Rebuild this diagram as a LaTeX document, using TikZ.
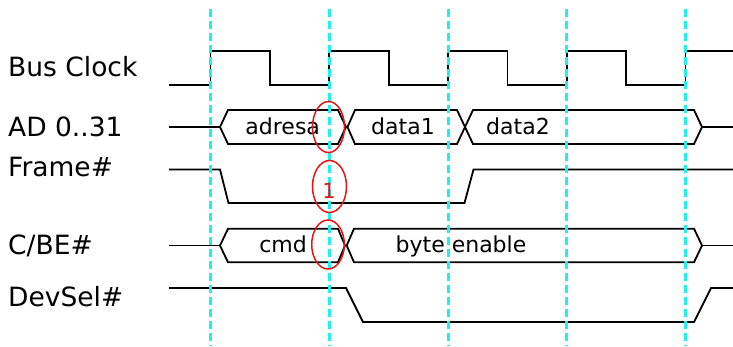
\documentclass[tikz,border=0pt]{standalone}
\usepackage{fontspec}
\setmainfont{DejaVu Sans}
\definecolor{guide}{RGB}{34,238,238}
\definecolor{mark}{RGB}{230,20,20}
\begin{document}
\begin{tikzpicture}[x=1bp,y=-1bp,
  sig/.style={line width=1.8bp,black,line join=miter},
  guideline/.style={guide,line width=3bp,dash pattern=on 8bp off 4bp},
  lab/.style={anchor=base west,inner sep=0pt,font=\fontsize{26.5bp}{28bp}\selectfont},
  bus/.style={anchor=base,inner sep=0pt,font=\fontsize{22bp}{24bp}\selectfont},
  ring/.style={draw=mark,line width=1.5bp}]
\useasboundingbox (0,0) rectangle (733,346);
% labels
\node[lab] (lclk) at (8,76) {Bus Clock};
\node[lab] (lad) at (8,136.5) {AD 0..31};
\node[lab] (lfr) at (8,176.5) {Frame\#};
\node[lab] (lcbe) at (8,254) {C/BE\#};
\node[lab] (ldev) at (8,306.5) {DevSel\#};
% clock
\draw[sig] (169,85)--(210.5,85)--(210.5,51)--(270,51)--(270,85)--(329.3,85)--(329.3,51)--(389,51)--(389,85)--(448,85)--(448,51)--(507.5,51)--(507.5,85)--(566.7,85)--(566.7,51)--(626,51)--(626,85)--(685.5,85)--(685.5,51)--(733,51);
% AD
\draw[sig] (169,127)--(220,127);
\draw[sig] (220,127)--(228,110)--(338,110)--(346,127)--(338,144)--(228,144)--cycle;
\draw[sig] (355,144)--(347.5,127)--(355,110)--(457,110)--(473,144)--(694,144)--(702,127)--(694,110)--(473,110)--(457,144)--cycle;
\draw[sig] (702,127)--(733,127);
\node[bus] (adr) at (282.7,134) {adresa};
\node[bus] (d1) at (403,134) {data1};
\node[bus] (d2) at (518,134) {data2};
% Frame
\draw[sig] (169,169.5)--(220,169.5)--(228.5,203)--(464.5,203)--(473.5,169.5)--(733,169.5);
% C/BE
\draw[sig] (169,245.5)--(220,245.5);
\draw[sig] (220,245.5)--(228,228.7)--(338,228.7)--(345,245.5)--(338,262.3)--(228,262.3)--cycle;
\draw[sig] (354,262.3)--(346.7,245.5)--(354,228.7)--(694,228.7)--(702,245.5)--(694,262.3)--cycle;
\draw[sig] (702,245.5)--(733,245.5);
\node[bus] (cmd) at (283,252) {cmd};
\node[bus] (be) at (461,252) {byte enable};
% DevSel
\draw[sig] (169,288)--(346,288)--(363,322)--(694,322)--(711,288)--(733,288);
% guides
\foreach \gx in {210.5,329.3,448,566.7,685.5}
  \draw[guideline] (\gx,8.5)--(\gx,346);
% marks
\draw[ring] (328.5,127) ellipse [x radius=16, y radius=25.5];
\draw[ring] (329.5,186.5) ellipse [x radius=17, y radius=26];
\draw[ring] (328,244.5) ellipse [x radius=16.3, y radius=24.5];
\node[bus,text=mark,font=\fontsize{21bp}{22bp}\selectfont] (one) at (329,198) {1};
\end{tikzpicture}
\end{document}
